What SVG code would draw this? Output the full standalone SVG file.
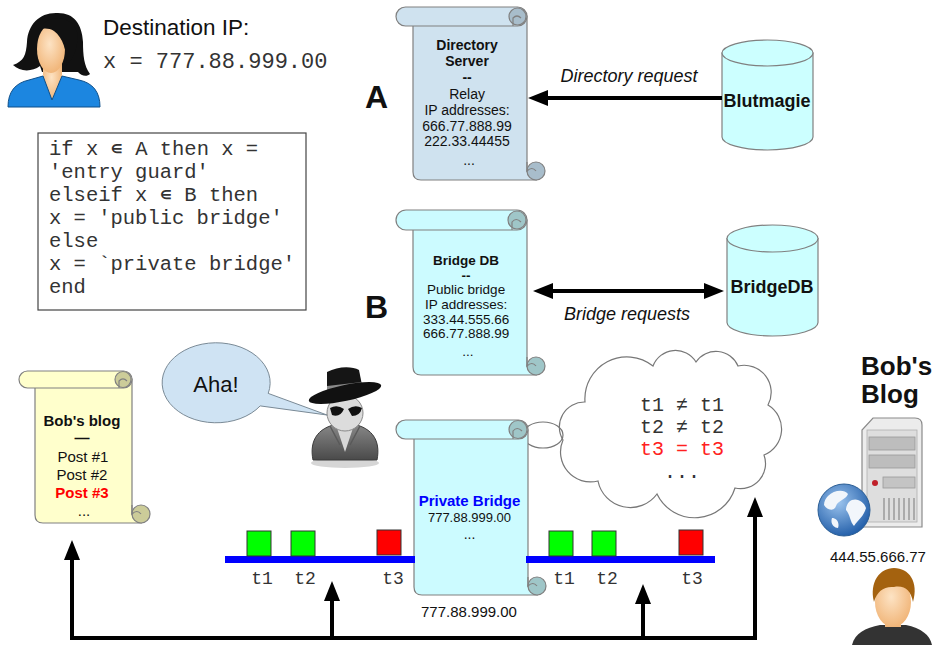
<svg xmlns="http://www.w3.org/2000/svg" width="932" height="645" viewBox="0 0 932 645">
  <style>
    .sans { font-family: "Liberation Sans", Arial, sans-serif; fill: #111; }
    .mono { font-family: "Liberation Mono", "Courier New", monospace; fill: #333; }
    .b { font-weight: bold; }
    .mid { text-anchor: middle; }
    .edge { stroke: #808080; stroke-width: 1.2; }
    .blue-scroll { fill: #cfe2ef; }
    .blue-curl { fill: #a8bdcb; }
    .cyan-scroll { fill: #ccfbff; }
    .cyan-curl { fill: #9fc6c8; }
    .yel-scroll { fill: #ffffcc; }
    .yel-curl { fill: #cccc99; }
    .db { fill: #ccffff; stroke: #808080; stroke-width: 1.2; }
    .wire { fill: none; stroke: #000; stroke-width: 4; stroke-linejoin: miter; }
    .pkt { stroke: #333; stroke-width: 1; }
    .cloud { fill: none; stroke: #777; stroke-width: 1.2; }
  </style>
  <defs>
    <marker id="arrow" viewBox="0 0 20 16" markerWidth="20" markerHeight="16" refX="12" refY="8" orient="auto-start-reverse" markerUnits="userSpaceOnUse">
      <path d="M0,0 L20,8 L0,16 Z" fill="#000"/>
    </marker>
    <radialGradient id="globe" cx="0.4" cy="0.35" r="0.7">
      <stop offset="0" stop-color="#9cc4ee"/>
      <stop offset="1" stop-color="#1d5aa6"/>
    </radialGradient>
    <linearGradient id="spybody" x1="0" y1="0" x2="0" y2="1">
      <stop offset="0" stop-color="#8a8a8a"/>
      <stop offset="1" stop-color="#4a4a4a"/>
    </linearGradient>
    <radialGradient id="face" cx="0.45" cy="0.4" r="0.6">
      <stop offset="0" stop-color="#fde3c4"/>
      <stop offset="1" stop-color="#f1b67a"/>
    </radialGradient>
  </defs>

  <!-- Alice: sender with destination address -->
  <g id="alice">
    <path d="M58,13 C40,12 28,24 27,42 C26,55 24,61 13,65 C20,72 32,72 40,66 L42,72 L78,72 C81,76 87,77 90,74 C84,66 83,55 83,42 C82,24 74,13 58,13 Z" fill="#111"/>
    <path d="M43,62 L43,78 L52,100 L62,78 L62,62 Z" fill="url(#face)"/>
    <ellipse cx="51" cy="49" rx="14" ry="24" fill="url(#face)"/>
    <path d="M38,30 C46,14 72,14 77,32 C79,46 74,58 66,66 C67,50 63,38 54,31 C49,28 43,28 38,30 Z" fill="#111"/>
    <path d="M8,107 C8,92 15,83 29,80 L43,76 L52,100 L62,76 L79,80 C93,83 100,92 100,107 Z" fill="#1c86e0" stroke="#0d4f8a" stroke-width="1"/>
    <text class="sans" x="103" y="35" font-size="22.5">Destination IP:</text>
    <text class="mono" x="103" y="68" font-size="22">x = 777.88.999.00</text>
  </g>

  <!-- Classification rule -->
  <g id="rule">
    <rect x="38" y="133" width="268" height="177" fill="#fff" stroke="#444" stroke-width="1.2"/>
    <text class="mono" font-size="20.5" x="49">
      <tspan x="49" y="155">if x ∊ A then x =</tspan>
      <tspan x="49" y="178">'entry guard'</tspan>
      <tspan x="49" y="201">elseif x ∊ B then</tspan>
      <tspan x="49" y="224">x = 'public bridge'</tspan>
      <tspan x="49" y="247">else</tspan>
      <tspan x="49" y="270">x = `private bridge'</tspan>
      <tspan x="49" y="293">end</tspan>
    </text>
  </g>

  <!-- Directory server scroll -->
  <g id="directory-server">
    <path class="blue-scroll edge" d="M413,16 L413,172 Q413,180 421,180 L536,180 L527,171 L527,16 Z"/>
    <circle class="blue-curl edge" cx="536" cy="171" r="9"/>
    <path class="edge" fill="none" d="M527,162 L527,171 Q532,166 536,171"/>
    <rect class="blue-scroll edge" x="396" y="7" width="131" height="19" rx="9.5"/>
    <circle class="blue-curl edge" cx="517.5" cy="16.5" r="8.5"/>
    <path class="edge" fill="none" d="M513,26 L513,18 Q517,14 521,18"/>
    <text class="sans mid" font-size="14" x="469">
      <tspan class="b" x="469" y="50">Directory</tspan>
      <tspan class="b" x="469" y="66">Server</tspan>
      <tspan class="b" x="469" y="82">--</tspan>
      <tspan x="469" y="99">Relay</tspan>
      <tspan x="469" y="115">IP addresses:</tspan>
      <tspan x="469" y="131">666.77.888.99</tspan>
      <tspan x="469" y="146">222.33.44455</tspan>
      <tspan x="469" y="165">...</tspan>
    </text>
  </g>
  <text class="sans b" x="365" y="108" font-size="32">A</text>

  <!-- Blutmagie directory database -->
  <g id="blutmagie">
    <path class="db" d="M722,53 L722,137 A45.5,13 0 0 0 813,137 L813,53 Z"/>
    <ellipse class="db" cx="767.5" cy="53" rx="45.5" ry="13"/>
    <text class="sans b mid" x="767" y="107" font-size="18">Blutmagie</text>
  </g>

  <!-- Bridge DB scroll -->
  <g id="bridge-db">
    <path class="cyan-scroll edge" d="M413,220 L413,367 Q413,375 421,375 L536,375 L527,366 L527,220 Z"/>
    <circle class="cyan-curl edge" cx="536" cy="366" r="9"/>
    <path class="edge" fill="none" d="M527,357 L527,366 Q532,361 536,366"/>
    <rect class="cyan-scroll edge" x="396" y="210" width="131" height="20" rx="10"/>
    <circle class="cyan-curl edge" cx="517" cy="220" r="9"/>
    <path class="edge" fill="none" d="M512,230 L512,222 Q516,217 521,222"/>
    <text class="sans mid" font-size="13.5" x="468">
      <tspan class="b" x="468" y="265">Bridge DB</tspan>
      <tspan class="b" x="468" y="280">--</tspan>
      <tspan x="468" y="294">Public bridge</tspan>
      <tspan x="468" y="309">IP addresses:</tspan>
      <tspan x="468" y="324">333.44.555.66</tspan>
      <tspan x="468" y="338">666.77.888.99</tspan>
      <tspan x="468" y="356">...</tspan>
    </text>
  </g>
  <text class="sans b" x="365" y="318" font-size="32">B</text>

  <!-- BridgeDB database -->
  <g id="bridgedb">
    <path class="db" d="M727,238.5 L727,322.5 A45.5,13.5 0 0 0 818,322.5 L818,238.5 Z"/>
    <ellipse class="db" cx="772.5" cy="238.5" rx="45.5" ry="13.5"/>
    <text class="sans b mid" x="772" y="293" font-size="18">BridgeDB</text>
  </g>

  <!-- Bob's blog scroll -->
  <g id="blog-scroll">
    <path class="yel-scroll edge" d="M35,379 L35,515 Q35,523 43,523 L141,523 L132,514 L132,379 Z"/>
    <circle class="yel-curl edge" cx="141" cy="514" r="9"/>
    <path class="edge" fill="none" d="M132,505 L132,514 Q137,509 141,514"/>
    <rect class="yel-scroll edge" x="19" y="371" width="113" height="17" rx="8.5"/>
    <circle class="yel-curl edge" cx="123" cy="379.5" r="8"/>
    <path class="edge" fill="none" d="M119,388 L119,381 Q123,377 127,381"/>
    <text class="sans mid" font-size="15" x="84">
      <tspan class="b" x="84" y="426">Bob's blog</tspan>
      <tspan class="b" x="84" y="443">—</tspan>
      <tspan x="85" y="462">Post #1</tspan>
      <tspan x="84" y="480">Post #2</tspan>
      <tspan class="b" x="84" y="498" fill="#ff0000">Post #3</tspan>
      <tspan x="84" y="516">...</tspan>
    </text>
  </g>

  <!-- Eavesdropper with speech bubble -->
  <g id="eavesdropper">
    <path d="M268.2,393.4 L327,415 L260.2,405.9 A54,40 0 1 1 268.2,393.4 Z" fill="#cfe3f3" stroke="#7a8a96" stroke-width="1"/>
    <text class="sans mid" x="216" y="392" font-size="22">Aha!</text>
    <ellipse cx="345" cy="463" rx="34" ry="5" fill="#d6d6d6"/>
    <path d="M313,460 C309,440 318,425 345,423 C372,425 381,440 377,460 Z" fill="url(#spybody)" stroke="#3a3a3a" stroke-width="1"/>
    <path d="M336,425 L345,452 L354,425 Z" fill="#d8d8d8"/>
    <path d="M330,426 L340,445 M360,426 L350,445" stroke="#5a5a5a" stroke-width="1.5" fill="none"/>
    <circle cx="345" cy="413" r="18" fill="#dcdcdc" stroke="#8a8a8a" stroke-width="1"/>
    <path d="M330,408 Q337,404 344,409 Q340,418 332,415 Z M348,409 Q355,404 362,408 Q360,416 352,416 Z" fill="#111"/>
    <path d="M327,372 C338,366 352,366 359,370 L363,390 L327,394 Z" fill="#151515"/>
    <path d="M327,386 L362,382 L363,388 L327,392 Z" fill="#8a8a8a"/>
    <ellipse cx="345" cy="393" rx="37" ry="8" transform="rotate(-12 345 393)" fill="#111"/>
  </g>

  <!-- Private bridge scroll and its thought cloud -->
  <g id="private-bridge">
    <ellipse cx="543" cy="435" rx="20" ry="13" fill="none" stroke="#777" stroke-width="1.2"/>
    <path class="cyan-scroll edge" d="M414,430 L414,587 Q414,595 422,595 L537,595 L528,586 L528,430 Z"/>
    <circle class="cyan-curl edge" cx="537" cy="586" r="9"/>
    <path class="edge" fill="none" d="M528,577 L528,586 Q533,581 537,586"/>
    <rect class="cyan-scroll edge" x="396" y="420" width="132" height="19" rx="9.5"/>
    <circle class="cyan-curl edge" cx="518" cy="429.5" r="9"/>
    <path class="edge" fill="none" d="M513,439 L513,431 Q517,426 522,431"/>
    <text class="sans b mid" x="469.5" y="506" font-size="15" fill="#0000ff" style="fill:#0000ff">Private Bridge</text>
    <text class="sans mid" x="469.5" y="522" font-size="13">777.88.999.00</text>
    <text class="sans mid" x="469.5" y="539" font-size="14">...</text>
    <text class="sans mid" x="469" y="617" font-size="15">777.88.999.00</text>
  </g>

  <g id="timing-cloud">
    <path class="cloud" d="M563,440 A25,25 0 0 1 585,402 A42,42 0 0 1 653,366 A24,24 0 0 1 696,362 A24,24 0 0 1 738,366 A27,27 0 0 1 768,405 A28,28 0 0 1 764,455 A25,25 0 0 1 735,488 A42,42 0 0 1 657,494 A33,33 0 0 1 598,481 A30,30 0 0 1 563,440 Z"/>
    <text class="mono" x="640" y="411" font-size="20">t1 ≠ t1</text>
    <text class="mono" x="640" y="433" font-size="20">t2 ≠ t2</text>
    <text class="mono" x="640" y="455" font-size="20" style="fill:#ff2020">t3 = t3</text>
    <text class="mono mid" x="682" y="478" font-size="20">...</text>
  </g>

  <!-- Packet timelines on both sides of the bridge -->
  <g id="timeline-in">
    <rect x="225" y="556" width="190" height="7" fill="#0000ff"/>
    <rect class="pkt" x="247" y="531" width="24" height="25" fill="#00ff00"/>
    <rect class="pkt" x="291" y="531" width="24" height="25" fill="#00ff00"/>
    <rect class="pkt" x="377" y="530" width="24" height="25" fill="#ff0000"/>
    <text class="mono mid" x="262" y="584" font-size="18">t1</text>
    <text class="mono mid" x="305" y="584" font-size="18">t2</text>
    <text class="mono mid" x="393" y="584" font-size="18">t3</text>
  </g>
  <g id="timeline-out">
    <rect x="526" y="556" width="189" height="7" fill="#0000ff"/>
    <rect class="pkt" x="549" y="531" width="24" height="25" fill="#00ff00"/>
    <rect class="pkt" x="592" y="531" width="24" height="25" fill="#00ff00"/>
    <rect class="pkt" x="679" y="530" width="24" height="25" fill="#ff0000"/>
    <text class="mono mid" x="564" y="584" font-size="18">t1</text>
    <text class="mono mid" x="607" y="584" font-size="18">t2</text>
    <text class="mono mid" x="692" y="584" font-size="18">t3</text>
  </g>

  <!-- Bob's blog server -->
  <g id="blog-server">
    <text class="sans b" font-size="26" x="861">
      <tspan x="861" y="375">Bob's</tspan>
      <tspan x="861" y="403">Blog</tspan>
    </text>
    <path d="M873,418 L915,418 Q922,418 922,425 L922,527 L862,527 L862,430 Z" fill="#ececec" stroke="#8a8a8a" stroke-width="1.2"/>
    <rect x="867" y="430" width="50" height="92" fill="#dedede" stroke="#b0b0b0" stroke-width="0.8"/>
    <rect x="869" y="437" width="46" height="13" fill="#bdbdbd" stroke="#999" stroke-width="0.8"/>
    <rect x="869" y="455" width="46" height="13" fill="#bdbdbd" stroke="#999" stroke-width="0.8"/>
    <circle cx="875" cy="483" r="3" fill="#c0202a"/>
    <rect x="883" y="477" width="32" height="11" fill="#c4c4c4" stroke="#999" stroke-width="0.8"/>
    <path d="M884,498 L884,520 M889,498 L889,520 M894,498 L894,520 M899,498 L899,520 M904,498 L904,520 M909,498 L909,520 M914,498 L914,520" stroke="#9a9a9a" stroke-width="1.5"/>
    <circle cx="844" cy="510" r="26" fill="url(#globe)" stroke="#2b5e95" stroke-width="1"/>
    <path d="M828,496 C834,490 844,489 848,494 C846,500 838,500 836,506 C834,512 827,510 824,505 C824,501 826,498 828,496 Z M852,500 C858,498 864,502 866,508 C864,516 858,520 854,526 C850,522 850,514 846,510 C846,505 849,501 852,500 Z M832,518 C836,518 840,522 838,528 C834,528 830,524 832,518 Z" fill="#f2f6fb"/>
    <text class="sans mid" x="878" y="562" font-size="15">444.55.666.77</text>
  </g>

  <!-- Bob -->
  <g id="bob">
    <path d="M852,645 C855,633 865,628 880,625 L906,625 C921,628 930,635 932,645 Z" fill="#333"/>
    <rect x="885" y="615" width="16" height="12" fill="#f1b67a"/>
    <ellipse cx="893" cy="602" rx="18" ry="25" fill="url(#face)"/>
    <path d="M874,602 C869,582 880,568 894,568 C909,568 919,582 913,602 C911,591 905,585 894,587 C884,586 877,591 874,602 Z" fill="#a4620f"/>
  </g>

  <!-- Connectors -->
  <g id="connectors">
    <path class="wire" d="M722,98 L536,98" marker-end="url(#arrow)"/>
    <text class="sans mid" x="629" y="82" font-size="18" font-style="italic">Directory request</text>
    <path class="wire" d="M541,291 L716,291" marker-start="url(#arrow)" marker-end="url(#arrow)"/>
    <text class="sans mid" x="627" y="320" font-size="18" font-style="italic">Bridge requests</text>
    <path class="wire" d="M72,548 L72,638 L755,638 L755,505" marker-start="url(#arrow)" marker-end="url(#arrow)"/>
    <path class="wire" d="M332,638 L332,589" marker-end="url(#arrow)"/>
    <path class="wire" d="M643,638 L643,592" marker-end="url(#arrow)"/>
  </g>
</svg>
